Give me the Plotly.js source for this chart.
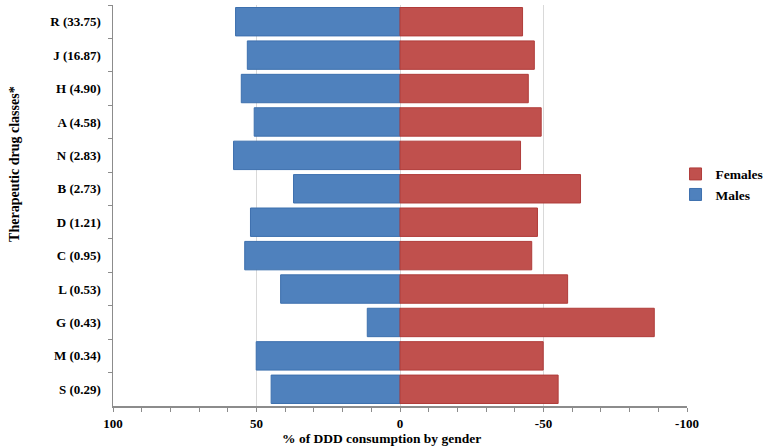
<!DOCTYPE html>
<html>
<head>
<meta charset="utf-8">
<script src="https://cdn.plot.ly/plotly-3.0.1.min.js"></script>
<style>html,body{margin:0;padding:0;background:#fff;}#chart{width:765px;height:448px;}</style>
</head>
<body>
<div id="chart"></div>
<script>
var categories = ["R (33.75)", "J (16.87)", "H (4.90)", "A (4.58)", "N (2.83)", "B (2.73)", "D (1.21)", "C (0.95)", "L (0.53)", "G (0.43)", "M (0.34)", "S (0.29)"];
var males = [57.3, 53.2, 55.3, 50.8, 58.0, 37.1, 52.1, 54.1, 41.6, 11.4, 50.1, 44.9];
var females = [42.7, 46.8, 44.7, 49.2, 42.0, 62.9, 47.9, 45.9, 58.4, 88.6, 49.9, 55.1];
var xTickVals = [100, 50, 0, -50, -100];
var xTickText = ["100", "50", "0", "-50", "-100"];

var FONT = "'Liberation Serif', 'Times New Roman', serif";

var traces = [
  {
    type: "bar", orientation: "h", name: "Males",
    y: categories, x: males,
    marker: {color: "#4F81BD", line: {color: "#3D70AE", width: 1}},
    hoverinfo: "skip"
  },
  {
    type: "bar", orientation: "h", name: "Females",
    y: categories, x: females.map(function (v) { return -v; }),
    marker: {color: "#C0504D", line: {color: "#B03C3A", width: 1}},
    hoverinfo: "skip"
  }
];

var layout = {
  width: 765, height: 448,
  margin: {l: 113, r: 78, t: 5, b: 42, pad: 0, autoexpand: false},
  paper_bgcolor: "#ffffff", plot_bgcolor: "#ffffff",
  font: {family: FONT, size: 13, color: "#000000", weight: "bold"},
  barmode: "relative",
  bargap: 0.15,
  showlegend: true,
  legend: {
    x: 0.98, xanchor: "left", y: 0.552, yanchor: "middle",
    traceorder: "reversed",
    font: {family: FONT, size: 13.5, color: "#000", weight: "bold"},
    itemwidth: 30, tracegroupgap: 0, bgcolor: "rgba(0,0,0,0)"
  },
  xaxis: {
    range: [100, -100],
    tickvals: xTickVals, ticktext: xTickText,
    showgrid: true, gridcolor: "#D9D9D9", gridwidth: 1,
    zeroline: false,
    showline: true, linecolor: "#8C8C8C", linewidth: 1.5,
    ticks: "outside", ticklen: 4, tickcolor: "#8C8C8C",
    minor: {dtick: 10, tick0: 0, ticks: "outside", ticklen: 4, tickcolor: "#8C8C8C", showgrid: false},
    ticklabelstandoff: 1,
    tickfont: {family: FONT, size: 13, color: "#000", weight: "bold"},
    fixedrange: true
  },
  yaxis: {
    type: "category",
    autorange: "reversed",
    showgrid: false, zeroline: false,
    showline: true, linecolor: "#8C8C8C", linewidth: 1.5,
    ticks: "outside", ticklen: 4, tickcolor: "#8C8C8C",
    tickson: "boundaries",
    ticklabelstandoff: 8,
    tickfont: {family: FONT, size: 13, color: "#000", weight: "bold"},
    fixedrange: true
  },
  annotations: [
    {
      text: "% of DDD consumption by gender",
      xref: "paper", yref: "paper", x: 0.467, y: -0.08,
      xanchor: "center", yanchor: "middle", showarrow: false,
      font: {family: FONT, size: 13.5, color: "#000", weight: "bold"}
    },
    {
      text: "Therapeutic drug classes*",
      xref: "paper", yref: "paper", x: -0.173, y: 0.603,
      xanchor: "center", yanchor: "middle", showarrow: false, textangle: -90,
      font: {family: FONT, size: 14, color: "#000", weight: "bold"}
    }
  ]
};

Plotly.newPlot("chart", traces, layout, {displayModeBar: false, staticPlot: true});
</script>
</body>
</html>
